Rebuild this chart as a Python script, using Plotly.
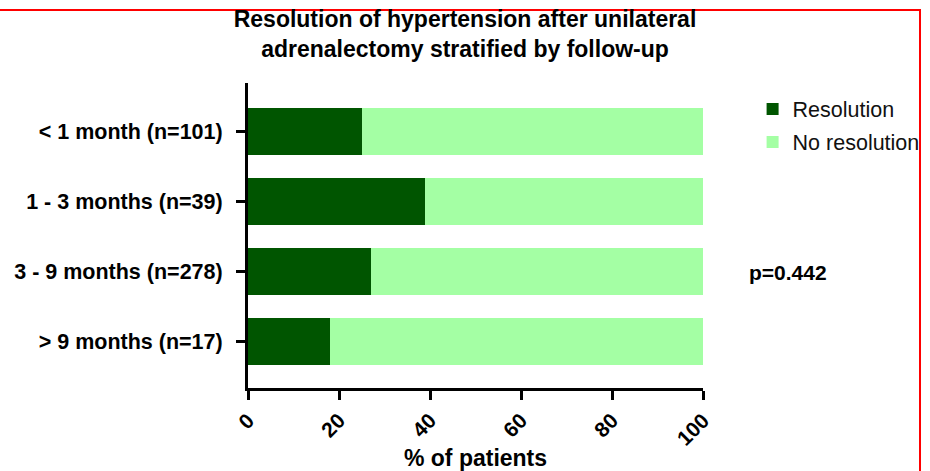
import plotly.graph_objects as go

categories = ["< 1 month (n=101)", "1 - 3 months (n=39)", "3 - 9 months (n=278)", "> 9 months (n=17)"]
resolution = [25, 39, 27, 18]
no_resolution = [75, 61, 73, 82]
x_ticks = [0, 20, 40, 60, 80, 100]
series_names = ["Resolution", "No resolution"]
colors = ["#005500", "#A4FFA4"]
title_text = "Resolution of hypertension after unilateral<br>adrenalectomy stratified by follow-up"
p_text = "p=0.442"

FONT = "Arial, Liberation Sans, sans-serif"

fig = go.Figure()
for name, vals, col in zip(series_names, [resolution, no_resolution], colors):
    fig.add_trace(go.Bar(
        y=categories, x=vals, name=name, orientation="h",
        marker=dict(color=col, line=dict(width=0)),
        legendgroup=name,
    ))

fig.update_layout(
    barmode="stack",
    bargap=0.33,
    width=930, height=471,
    margin=dict(l=248, r=227, t=83, b=83, autoexpand=False),
    plot_bgcolor="white", paper_bgcolor="white",
    font=dict(family=FONT, color="black"),
    title=dict(text=title_text, x=0.5, xref="container", xanchor="center",
               y=1 - 27 / 471, yref="container", yanchor="top",
               font=dict(family=FONT, size=23, weight="bold", color="black")),
    showlegend=True,
    legend=dict(x=1.109, y=0.982, xanchor="left", yanchor="top",
                font=dict(family=FONT, size=21.5, color="#111111"),
                traceorder="grouped", tracegroupgap=2,
                bgcolor="rgba(0,0,0,0)"),
    xaxis=dict(range=[0, 100], tickvals=x_ticks, ticks="outside", ticklen=9, tickwidth=2.5,
               tickcolor="black", showline=True, linewidth=3, linecolor="black",
               showgrid=False, zeroline=False, tickangle=-45,
               tickfont=dict(family=FONT, size=21, weight="bold"),
               title=dict(text="% of patients", standoff=8,
                          font=dict(family=FONT, size=23, weight="bold"))),
    yaxis=dict(type="category", categoryorder="array", categoryarray=categories,
               range=[3.66, -0.686], ticks="outside", ticklen=9, tickwidth=2.5,
               tickcolor="black", showline=True, linewidth=3, linecolor="black",
               showgrid=False, zeroline=False, ticklabelstandoff=9,
               tickfont=dict(family=FONT, size=21.5, weight="bold")),
)

fig.add_annotation(text=p_text, x=(788 - 248) / 455, y=(388 - 272) / 305,
                   xref="paper", yref="paper", showarrow=False,
                   xanchor="center", yanchor="middle",
                   font=dict(family=FONT, size=21, weight="bold", color="black"))

fig.add_shape(type="rect", xref="paper", yref="paper",
              x0=(-10 - 248) / 455, x1=(920 - 248) / 455,
              y0=(388 - 490) / 305, y1=(388 - 10) / 305,
              line=dict(color="red", width=2), fillcolor="rgba(0,0,0,0)", layer="above")

fig.write_html("out.html", config={"displayModeBar": False},
               post_script="document.body.style.margin='0';document.body.style.padding='0';document.body.style.overflow='hidden';")
